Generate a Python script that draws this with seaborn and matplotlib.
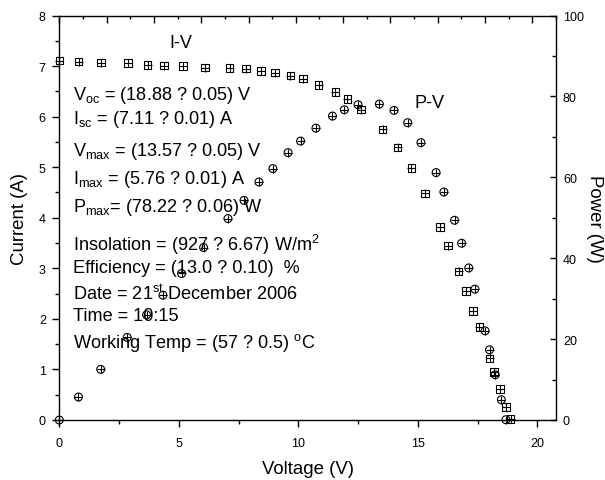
import matplotlib
matplotlib.use("Agg")
import matplotlib.pyplot as plt
import seaborn as sns
import pandas as pd
from matplotlib.ticker import MultipleLocator

# ---- data ----
voltage = [0.0, 0.81, 1.75, 2.87, 3.69, 4.38, 5.17, 6.10, 7.13, 7.81, 8.44,
           9.03, 9.67, 10.20, 10.85, 11.55, 12.05, 12.63, 13.53, 14.15, 14.73,
           15.29, 15.93, 16.26, 16.71, 17.01, 17.31, 17.57, 18.00, 18.19,
           18.43, 18.69, 18.88]
current = [7.11, 7.09, 7.07, 7.06, 7.02, 7.01, 7.00, 6.97, 6.96, 6.95, 6.90,
           6.87, 6.81, 6.75, 6.63, 6.49, 6.35, 6.14, 5.75, 5.39, 4.98, 4.48,
           3.82, 3.45, 2.94, 2.55, 2.16, 1.84, 1.22, 0.95, 0.61, 0.26, 0.02]
power = [0.0, 5.68, 12.52, 20.42, 26.0, 30.86, 36.22, 42.64, 49.80, 54.3,
         58.84, 62.15, 66.1, 68.96, 72.15, 75.14, 76.7, 77.95, 78.1, 76.54,
         73.5, 68.57, 61.16, 56.37, 49.38, 43.70, 37.60, 32.35, 22.05, 17.36,
         11.19, 5.01, 0.07]

info_lines = [
    r"V$_{\mathrm{oc}}$ = (18.88 ? 0.05) V",
    r"I$_{\mathrm{sc}}$ = (7.11 ? 0.01) A",
    r"V$_{\mathrm{max}}$ = (13.57 ? 0.05) V",
    r"I$_{\mathrm{max}}$ = (5.76 ? 0.01) A",
    r"P$_{\mathrm{max}}$= (78.22 ? 0.06) W",
    r"Insolation = (927 ? 6.67) W/m$^{2}$",
    r"Efficiency = (13.0 ? 0.10)  %",
    r"Date = 21$^{\mathrm{st}}$ December 2006",
    r"Time = 10:15",
    r"Working Temp = (57 ? 0.5) $^{\mathrm{o}}$C",
]
info_y = [95, 120, 152, 180, 208, 245, 269, 294, 317, 343]

df_iv = pd.DataFrame({"Voltage": voltage, "Current": current})
df_pv = pd.DataFrame({"Voltage": voltage, "Power": power})

sns.set_theme(style="white")
plt.rcParams["font.family"] = ["Liberation Sans", "DejaVu Sans"]
plt.rcParams["mathtext.fontset"] = "custom"
plt.rcParams["mathtext.rm"] = "Liberation Sans"
plt.rcParams["mathtext.it"] = "Liberation Sans"
for key in ["text.color", "axes.labelcolor", "xtick.color", "ytick.color",
            "axes.edgecolor"]:
    plt.rcParams[key] = "black"

W, H = 605, 481
fig = plt.figure(figsize=(6.05, 4.81), dpi=100)
rect = [59.3 / W, 1 - 421 / H, (556 - 59.3) / W, (421 - 16.5) / H]
ax1 = fig.add_axes(rect)
ax2 = fig.add_axes(rect, frameon=False)

ms = 5.4
# I-V : square with plus
sns.scatterplot(data=df_iv, x="Voltage", y="Current", marker="s", s=ms**2,
                facecolors="none", edgecolor="black", linewidth=0.8, ax=ax1,
                clip_on=False, zorder=3)
sns.scatterplot(data=df_iv, x="Voltage", y="Current", marker="+", s=ms**2,
                color="black", linewidth=0.8, ax=ax1, clip_on=False, zorder=3)
# P-V : circle with plus
sns.scatterplot(data=df_pv, x="Voltage", y="Power", marker="o", s=(ms * 1.05)**2,
                facecolors="none", edgecolor="black", linewidth=0.8, ax=ax2,
                clip_on=False, zorder=3)
sns.scatterplot(data=df_pv, x="Voltage", y="Power", marker="+", s=(ms * 1.05)**2,
                color="black", linewidth=0.8, ax=ax2, clip_on=False, zorder=3)

# ---- primary axes (bottom / left) ----
ax1.set_xlim(0, 20.78)
ax1.set_ylim(0, 8)
ax1.xaxis.set_major_locator(MultipleLocator(5))
ax1.xaxis.set_minor_locator(MultipleLocator(2.5))
ax1.yaxis.set_major_locator(MultipleLocator(1))
ax1.yaxis.set_minor_locator(MultipleLocator(0.5))
ax1.tick_params(axis="both", which="major", direction="out", length=5.2,
                width=1.0, labelsize=9, colors="black")
ax1.tick_params(axis="both", which="minor", direction="out", length=3,
                width=1.0, colors="black")
ax1.tick_params(axis="x", which="both", bottom=True, top=False, pad=7)
ax1.tick_params(axis="y", which="both", left=True, right=False, pad=4.5)
for sp in ax1.spines.values():
    sp.set_visible(True)
    sp.set_color("black")
    sp.set_linewidth(1.0)
ax1.set_xlabel("Voltage (V)", fontsize=13.4, labelpad=8, color="black")
ax1.set_ylabel("Current (A)", fontsize=13.4, labelpad=8, color="black")

# ---- secondary axes (top / right) ----
ax2.set_xlim(0, 21)
ax2.set_ylim(0, 100)
ax2.xaxis.set_major_locator(MultipleLocator(2))
ax2.xaxis.set_minor_locator(MultipleLocator(1))
ax2.yaxis.set_major_locator(MultipleLocator(20))
ax2.yaxis.set_minor_locator(MultipleLocator(10))
ax2.xaxis.tick_top()
ax2.yaxis.tick_right()
ax2.yaxis.set_label_position("right")
ax2.tick_params(axis="x", which="both", top=True, bottom=False,
                labeltop=False, labelbottom=False, direction="in",
                colors="black")
ax2.tick_params(axis="x", which="major", length=5, width=1.0)
ax2.tick_params(axis="x", which="minor", length=2.5, width=1.0)
ax2.tick_params(axis="y", which="both", right=True, left=False,
                labelright=True, labelleft=False, direction="in",
                colors="black")
ax2.tick_params(axis="y", which="major", length=4.5, width=1.0,
                labelsize=9, pad=5)
ax2.tick_params(axis="y", which="minor", length=3, width=1.0)
ax2.set_xlabel("")
ax2.set_ylabel("Power (W)", fontsize=13.4, rotation=270, labelpad=14,
               color="black")
ax2.grid(False)
ax1.grid(False)

# ---- annotations (pixel positions converted to figure coords) ----
def fx(px):
    return px / W

def fy(py):
    return 1 - py / H

fig.text(fx(169), fy(43), "I-V", fontsize=13.1, va="center", ha="left",
         color="black")
fig.text(fx(415), fy(104), "P-V", fontsize=13.1, va="center", ha="left",
         color="black")
for txt, py in zip(info_lines, info_y):
    fig.text(fx(73), fy(py), txt, fontsize=13.1, va="center", ha="left",
             color="black")

fig.savefig("out.png", dpi=100, facecolor="white")
